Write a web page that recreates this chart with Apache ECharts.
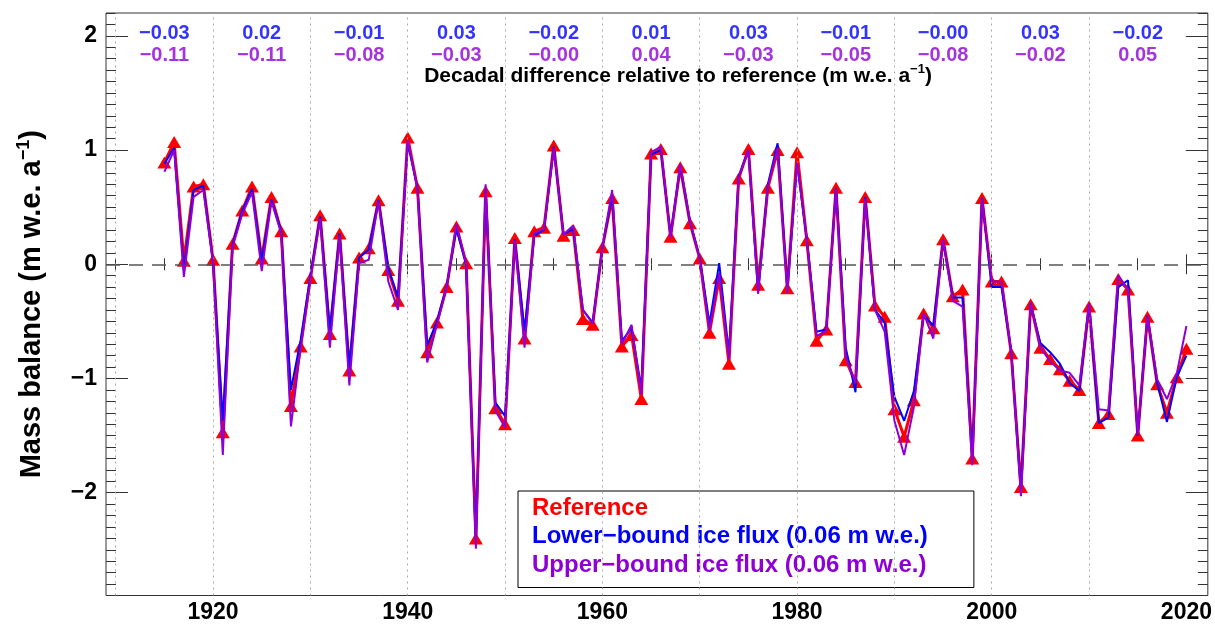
<!DOCTYPE html>
<html>
<head>
<meta charset="utf-8">
<script src="https://cdn.jsdelivr.net/npm/echarts@6/dist/echarts.min.js"></script>
<style>
html,body{margin:0;padding:0;background:#fff;}
#chart{width:1215px;height:625px;}
</style>
</head>
<body>
<div id="chart"></div>
<script>
const FIRST_YEAR = 1915;
const reference = [
 0.89, 1.07, 0.03, 0.68, 0.70, 0.04, -1.47, 0.18, 0.47, 0.68,
 0.05, 0.59, 0.29, -1.24, -0.72, -0.12, 0.43, -0.61, 0.27, -0.93,
 0.06, 0.14, 0.56, -0.05, -0.32, 1.11, 0.67, -0.77, -0.51, -0.20,
 0.33, 0.01, -2.40, 0.64, -1.26, -1.40, 0.23, -0.65, 0.29, 0.32,
 1.04, 0.25, 0.30, -0.48, -0.53, 0.15, 0.58, -0.72, -0.62, -1.18,
 0.97, 1.01, 0.24, 0.85, 0.36, 0.05, -0.60, -0.12, -0.87, 0.75,
 1.01, -0.18, 0.67, 1.00, -0.21, 0.98, 0.21, -0.67, -0.57, 0.67,
 -0.84, -1.03, 0.59, -0.36, -0.46, -1.27, -1.51, -1.19, -0.43, -0.56,
 0.22, -0.28, -0.22, -1.70, 0.58, -0.15, -0.15, -0.78, -1.95, -0.35,
 -0.73, -0.83, -0.92, -1.02, -1.10, -0.37, -1.39, -1.31, -0.13, -0.22,
 -1.50, -0.46, -1.05, -1.30, -0.99, -0.74
];
const lowerBound = [
 0.88, 1.02, -0.05, 0.65, 0.69, 0.02, -1.37, 0.17, 0.47, 0.66,
 0.03, 0.57, 0.29, -1.10, -0.66, -0.10, 0.42, -0.58, 0.27, -0.90,
 0.06, 0.13, 0.56, -0.03, -0.29, 1.06, 0.67, -0.71, -0.50, -0.19,
 0.31, 0.00, -2.42, 0.66, -1.21, -1.33, 0.22, -0.58, 0.25, 0.30,
 1.03, 0.26, 0.31, -0.40, -0.51, 0.15, 0.60, -0.67, -0.56, -1.09,
 0.96, 1.00, 0.25, 0.86, 0.37, 0.06, -0.52, 0.01, -0.78, 0.77,
 1.00, -0.24, 0.70, 1.06, -0.21, 0.88, 0.22, -0.59, -0.57, 0.67,
 -0.73, -1.12, 0.59, -0.40, -0.51, -1.16, -1.37, -1.11, -0.44, -0.54,
 0.21, -0.29, -0.29, -1.71, 0.58, -0.20, -0.20, -0.76, -1.98, -0.35,
 -0.69, -0.77, -0.87, -1.04, -1.11, -0.35, -1.39, -1.34, -0.20, -0.14,
 -1.50, -0.45, -1.04, -1.38, -0.99, -0.80
];
const upperBound = [
 0.81, 1.00, -0.11, 0.59, 0.65, 0.01, -1.67, 0.15, 0.44, 0.63,
 -0.06, 0.55, 0.27, -1.42, -0.73, -0.13, 0.40, -0.73, 0.25, -1.06,
 0.01, 0.04, 0.55, -0.15, -0.40, 1.09, 0.66, -0.86, -0.53, -0.20,
 0.35, 0.01, -2.49, 0.70, -1.28, -1.43, 0.21, -0.73, 0.27, 0.31,
 1.02, 0.26, 0.34, -0.40, -0.52, 0.15, 0.65, -0.70, -0.53, -1.14,
 0.98, 1.03, 0.23, 0.88, 0.38, 0.05, -0.58, -0.08, -0.83, 0.76,
 1.00, -0.26, 0.68, 1.02, -0.25, 0.89, 0.22, -0.63, -0.58, 0.66,
 -0.81, -1.04, 0.57, -0.40, -0.59, -1.37, -1.67, -1.25, -0.43, -0.65,
 0.22, -0.32, -0.37, -1.76, 0.57, -0.15, -0.15, -0.76, -2.03, -0.33,
 -0.73, -0.85, -0.93, -0.95, -1.06, -0.34, -1.27, -1.28, -0.10, -0.22,
 -1.49, -0.45, -1.01, -1.18, -0.96, -0.54
];
const decadeCentres = [1915, 1925, 1935, 1945, 1955, 1965, 1975, 1985, 1995, 2005, 2015];
const decadeDiffLower = ['-0.03','0.02','-0.01','0.03','-0.02','0.01','0.03','-0.01','-0.00','0.03','-0.02'];
const decadeDiffUpper = ['-0.11','-0.11','-0.08','-0.03','-0.00','0.04','-0.03','-0.05','-0.08','-0.02','0.05'];
const decadeLines = [1910, 1920, 1930, 1940, 1950, 1960, 1970, 1980, 1990, 2000, 2010];
const xLabelYears = [1920, 1940, 1960, 1980, 2000, 2020];
const xMinorYears = [1910, 1915, 1925, 1930, 1935, 1945, 1950, 1955, 1965, 1970, 1975, 1985, 1990, 1995, 2005, 2010, 2015];
const yLabelValues = [-2, -1, 0, 1, 2];

const NAME_REF = 'Reference';
const NAME_LO = 'Lower\u2212bound ice flux (0.06 m w.e.)';
const NAME_UP = 'Upper\u2212bound ice flux (0.06 m w.e.)';

const RED = '#ff0000', BLUE = '#0000ff', PURPLE = '#8f00d6';
const FONT = '"Liberation Sans", Arial, Helvetica, sans-serif';
const X_MIN = 1909, X_MAX = 2022.2, Y_MIN = -2.9, Y_MAX = 2.2;
const minus = s => String(s).replace('-', '\u2212');

const years = reference.map((_, i) => FIRST_YEAR + i);
const pairs = arr => arr.map((v, i) => [years[i], v]);

const yMinor = [];
for (let i = -29; i <= 22; i++) { if (i % 10 !== 0) yMinor.push(i / 10); }

function xAx(pos, ticks, len, labels) {
  return {
    type: 'value', position: pos, min: X_MIN, max: X_MAX, gridIndex: 0,
    axisLine: {show: false},
    splitLine: {show: false},
    axisTick: {show: true, inside: true, length: len, customValues: ticks,
      lineStyle: {color: '#333', width: 1}},
    axisLabel: labels ? {show: true, customValues: labels, margin: 6,
      fontSize: 23, fontWeight: 'bold', color: '#000', fontFamily: FONT,
      formatter: v => String(v)} : {show: false}
  };
}
function yAx(pos, ticks, len, labels, extra) {
  return Object.assign({
    type: 'value', position: pos, min: Y_MIN, max: Y_MAX, offset: 0,
    axisLine: {show: false},
    splitLine: {show: false},
    axisTick: {show: true, inside: true, length: len, customValues: ticks,
      lineStyle: {color: '#333', width: 1}},
    axisLabel: labels ? {show: true, customValues: labels, margin: 9,
      fontSize: 23, fontWeight: 'bold', color: '#000', fontFamily: FONT,
      formatter: v => minus(v)} : {show: false}
  }, extra || {});
}

const chart = echarts.init(document.getElementById('chart'), null, {renderer: 'canvas'});
chart.setOption({
  animation: false,
  backgroundColor: '#fff',
  grid: {left: 106, right: 2, top: 13, bottom: 29.5, show: true,
    borderColor: '#333', borderWidth: 1, backgroundColor: 'transparent'},
  xAxis: [
    xAx('bottom', xLabelYears, 10, xLabelYears),
    xAx('bottom', xMinorYears, 6, null),
    xAx('top', xLabelYears, 10, null),
    xAx('top', xMinorYears, 6, null)
  ],
  yAxis: [
    yAx('left', yLabelValues, 22, yLabelValues, {
      name: '{t|Mass balance (m w.e. a}{s|\u22121}{t|)}',
      nameLocation: 'middle', nameRotate: 90, nameGap: 57,
      nameTextStyle: {rich: {
        t: {fontSize: 29, fontWeight: 'bold', color: '#000', fontFamily: FONT, lineHeight: 34},
        s: {fontSize: 18, fontWeight: 'bold', color: '#000', fontFamily: FONT, verticalAlign: 'top', lineHeight: 34, padding: [0, 0, 15, 0]}
      }}
    }),
    yAx('left', yMinor, 10, null),
    yAx('right', yLabelValues, 22, null),
    yAx('right', yMinor, 10, null)
  ],
  legend: {
    orient: 'vertical', left: 518, top: 491,
    icon: 'none', itemWidth: 0, itemHeight: 0, itemGap: 0,
    padding: [3, 46, 8, 9],
    backgroundColor: '#fff', borderColor: '#000', borderWidth: 1,
    selectedMode: false,
    textStyle: {fontSize: 24, fontWeight: 'bold', fontFamily: FONT, lineHeight: 28.5},
    data: [
      {name: NAME_REF, textStyle: {color: RED}},
      {name: NAME_LO, textStyle: {color: BLUE}},
      {name: NAME_UP, textStyle: {color: PURPLE}}
    ]
  },
  graphic: [{
    type: 'text', x: 678, y: 76, z: 10,
    style: {
      text: '{b|Decadal difference relative to reference (m w.e. a}{s|\u22121}{b|)}',
      align: 'center', verticalAlign: 'middle',
      rich: {
        b: {fontSize: 21, fontWeight: 'bold', fill: '#000', fontFamily: FONT, lineHeight: 26},
        s: {fontSize: 13, fontWeight: 'bold', fill: '#000', fontFamily: FONT, lineHeight: 26, verticalAlign: 'top', padding: [0, 0, 9, 0]}
      }
    }
  }],
  series: [
    {
      name: 'guides', type: 'line', data: [], z: 1, silent: true,
      markLine: {
        silent: true, symbol: ['none', 'none'], label: {show: false},
        animation: false,
        data: decadeLines.map(x => ({xAxis: x, lineStyle: {type: [2, 4], color: '#aaa', width: 1}}))
          .concat([{yAxis: 0, lineStyle: {type: [14, 9], color: '#555', width: 1.6}}])
      }
    },
    {
      name: NAME_REF, type: 'line', data: pairs(reference), z: 3,
      color: RED,
      lineStyle: {color: RED, width: 3},
      symbol: 'triangle', symbolSize: [14, 12], showSymbol: true,
      itemStyle: {color: RED}
    },
    {
      name: NAME_LO, type: 'line', data: pairs(lowerBound), z: 4,
      color: BLUE, lineStyle: {color: BLUE, width: 2}, showSymbol: false, symbol: 'none'
    },
    {
      name: NAME_UP, type: 'line', data: pairs(upperBound), z: 5,
      color: PURPLE, lineStyle: {color: PURPLE, width: 2}, showSymbol: false, symbol: 'none'
    },
    {
      name: 'decLower', type: 'scatter', z: 6, silent: true, symbolSize: 0,
      data: decadeCentres.map((x, i) => [x, 2.02, decadeDiffLower[i]]),
      label: {show: true, position: 'inside', formatter: p => minus(p.value[2]),
        color: BLUE, fontSize: 20, fontWeight: 'bold', fontFamily: FONT}
    },
    {
      name: 'decUpper', type: 'scatter', z: 6, silent: true, symbolSize: 0,
      data: decadeCentres.map((x, i) => [x, 1.83, decadeDiffUpper[i]]),
      label: {show: true, position: 'inside', formatter: p => minus(p.value[2]),
        color: PURPLE, fontSize: 20, fontWeight: 'bold', fontFamily: FONT}
    }
  ]
});
</script>
</body>
</html>
